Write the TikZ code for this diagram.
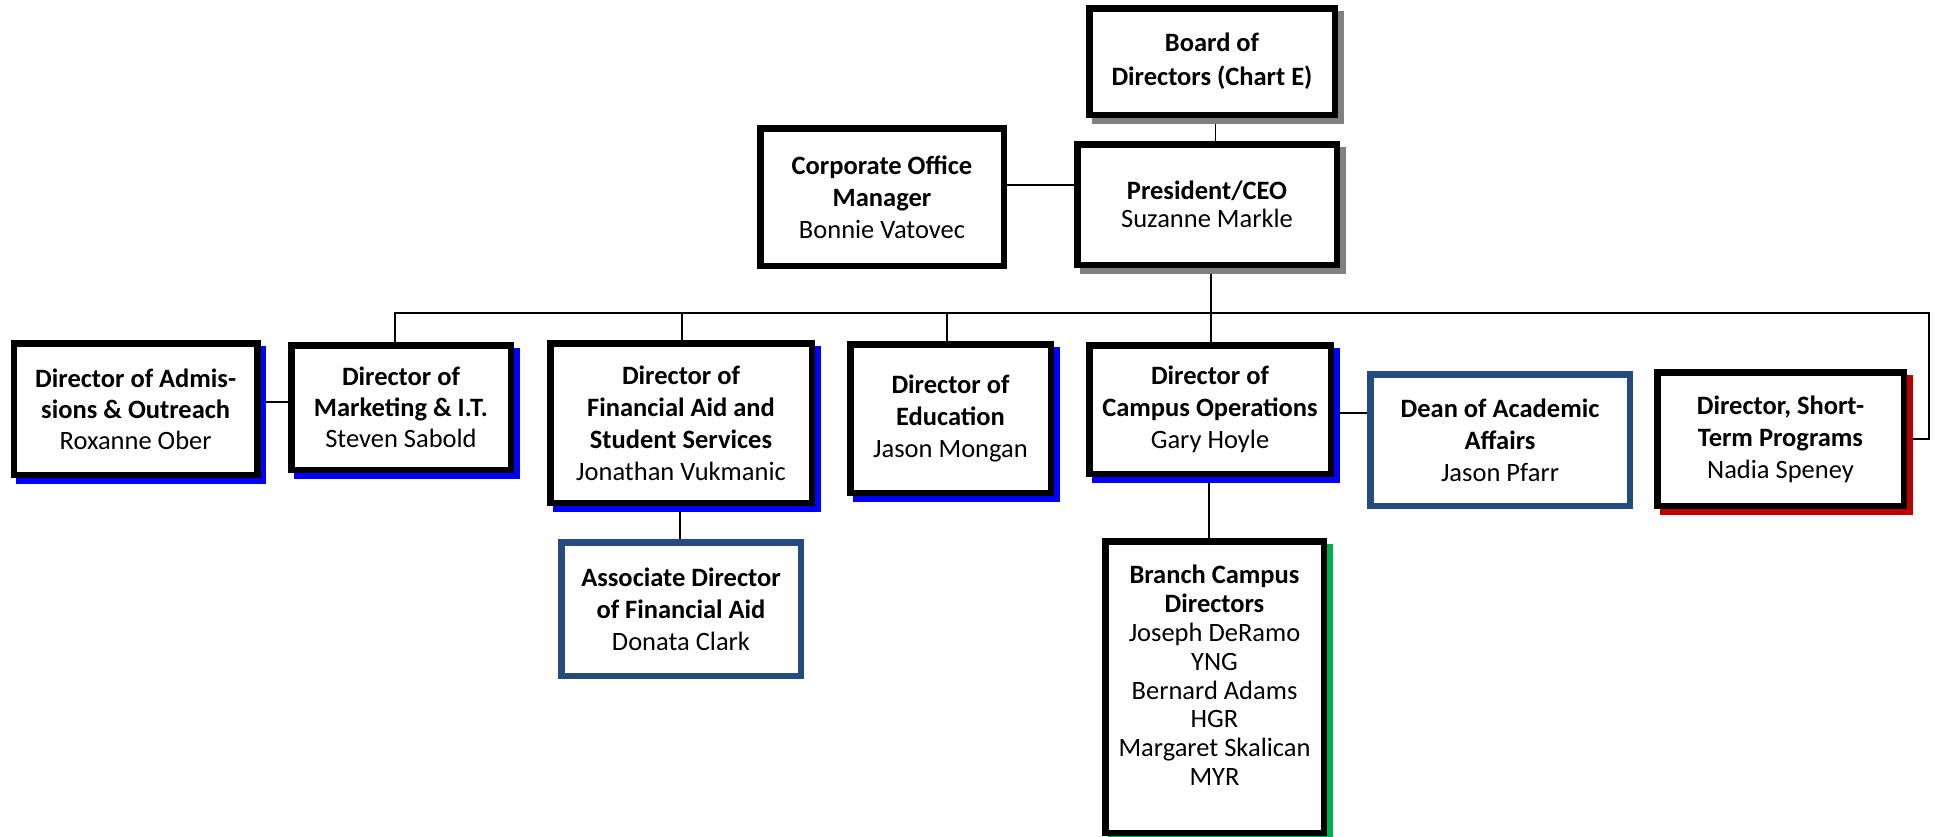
\documentclass[tikz,border=0pt]{standalone}
\usepackage{fontspec}
\setmainfont{Carlito}
\usetikzlibrary{backgrounds}
\definecolor{dblue}{RGB}{35,75,125}
\definecolor{sred}{RGB}{192,0,0}
\definecolor{sgreen}{RGB}{0,176,80}
\definecolor{sgray}{RGB}{128,128,128}
\definecolor{sblue}{RGB}{0,0,255}
\begin{document}
\begin{tikzpicture}[x=1pt,y=-1pt,
  box/.style={draw=black, line width=6.5pt, fill=white, inner sep=0pt, outer sep=0pt,
    align=center, font=\fontsize{26.5}{32}\selectfont},
  bluebox/.style={box, draw=dblue},
  shadowed/.style={preaction={draw=#1, fill=#1, line width=6.5pt,
    transform canvas={shift={(5.5pt,-5.5pt)}}}},
  conn/.style={line width=1.8pt, draw=black},
  txt/.style={inner sep=0pt, align=center, font=\fontsize{26.5}{28.8}\selectfont}]
\useasboundingbox (0,0) rectangle (1935,836);

\node[box, shadowed=sgray, minimum width=245.5pt, minimum height=106.5pt, font=\fontsize{26.5}{34}\selectfont] (board) at (1212,61.5)
  {\textbf{Board of}\\\textbf{Directors (Chart E)}};
\node[box, shadowed=sgray, minimum width=259.5pt, minimum height=120.5pt, font=\fontsize{26.5}{28.5}\selectfont] (pres) at (1207,204.5)
  {\textbf{President/CEO}\\Suzanne Markle};
\node[box, minimum width=243.5pt, minimum height=137.5pt] (corp) at (882,197)
  {\textbf{Corporate Office}\\\textbf{Manager}\\Bonnie Vatovec};
\node[box, shadowed=sblue, minimum width=243.5pt, minimum height=131.5pt, font=\fontsize{26.5}{31}\selectfont] (adm) at (135.7,409)
  {\textbf{Director of Admis-}\\\textbf{sions \& Outreach}\\Roxanne Ober};
\node[box, shadowed=sblue, minimum width=219.5pt, minimum height=124.5pt, font=\fontsize{26.5}{31}\selectfont] (mkt) at (401,407.5)
  {\textbf{Director of}\\\textbf{Marketing \& I.T.}\\Steven Sabold};
\node[box, shadowed=sblue, minimum width=261.5pt, minimum height=159.5pt] (finaid) at (681,423)
  {\textbf{Director of}\\\textbf{Financial Aid and}\\\textbf{Student Services}\\Jonathan Vukmanic};
\node[box, shadowed=sblue, minimum width=200.5pt, minimum height=148.5pt] (edu) at (950.5,418.5)
  {\textbf{Director of}\\\textbf{Education}\\Jason Mongan};
\node[box, shadowed=sblue, minimum width=241.5pt, minimum height=128.5pt] (campus) at (1210,409.5)
  {\textbf{Director of}\\\textbf{Campus Operations}\\Gary Hoyle};
\node[bluebox, minimum width=259.5pt, minimum height=131.5pt] (dean) at (1500,440)
  {\textbf{Dean of Academic}\\\textbf{Affairs}\\Jason Pfarr};
\node[box, shadowed=sred, minimum width=246.5pt, minimum height=133.5pt] (short) at (1780.5,439)
  {\textbf{Director, Short-}\\\textbf{Term Programs}\\Nadia Speney};
\node[bluebox, minimum width=239.5pt, minimum height=133.5pt] (assoc) at (681,609)
  {\textbf{Associate Director}\\\textbf{of Financial Aid}\\Donata Clark};
\node[box, shadowed=sgreen, minimum width=218.5pt, minimum height=291.5pt] (branch) at (1214.5,687) {};
\node[txt, anchor=north] (branchtxt) at (1214.5,565)
  {\textbf{Branch Campus}\\\textbf{Directors}\\Joseph DeRamo\\YNG\\Bernard Adams\\HGR\\Margaret Skalican\\MYR};

\coordinate (busy) at (0,313.3);
\coordinate (busR) at (1929.3,313.3);
\coordinate (corpy) at (0,185);
\coordinate (admy) at (0,402);
\coordinate (deany) at (0,412.7);

\begin{scope}[on background layer]
\fill[white] (0,0) rectangle (1935,836);
\draw[conn] ([xshift=3.5pt]board.south) -- ([xshift=8.5pt]pres.north);
\draw[conn] ([xshift=3.7pt]pres.south) -- ([xshift=0.7pt]campus.north);
\draw[conn] (corp.east |- corpy) -- (pres.west |- corpy);
\draw[conn] ([xshift=-6pt]mkt.north) |- (busR) |- (short.east);
\draw[conn] ([xshift=1pt]finaid.north) coordinate (f1) -- (f1 |- busy);
\draw[conn] ([xshift=-3.8pt]edu.north) coordinate (e1) -- (e1 |- busy);
\draw[conn] (adm.east |- admy) -- (mkt.west |- admy);
\draw[conn] (campus.east |- deany) -- (dean.west |- deany);
\draw[conn] ([xshift=-1pt]finaid.south) -- ([xshift=-1pt]assoc.north);
\draw[conn] ([xshift=-1pt]campus.south) -- ([xshift=-5.5pt]branch.north);
\end{scope}
\end{tikzpicture}
\end{document}
